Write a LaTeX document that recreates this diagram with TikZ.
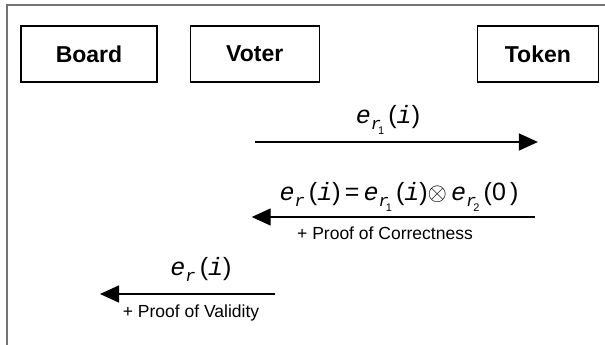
\documentclass[tikz,border=0pt]{standalone}
\usepackage{fontspec}
\setmainfont{Liberation Sans}
\newfontfamily\courfont{Liberation Mono}
\usepackage{amsmath, amssymb}
\usepackage{tikz}
\usetikzlibrary{arrows.meta, positioning}
\tikzset{every node/.style={font=\fontsize{17.5}{20}\selectfont}}
\newcommand{\encr}{{\courfont\itshape e}\raisebox{-6pt}{\fontsize{17}{17}\selectfont\courfont\itshape r}}
\newcommand{\encrk}[1]{\encr\kern-3pt\raisebox{-11pt}{\fontsize{11}{11}\selectfont #1}}
\newcommand{\argi}{({\courfont\itshape i})}

\begin{document}
\begin{tikzpicture}[x=1pt, y=-1pt, node distance=32pt,
    actor/.style={draw, line width=1.2pt, minimum height=56pt, inner sep=0pt, font=\fontsize{23}{27}\selectfont\bfseries},
    msg/.style={line width=1.3pt, -{Triangle[length=19pt, width=17pt]}},
    formula/.style={anchor=base, inner sep=0pt, font=\fontsize{25}{29}\selectfont},
    note/.style={anchor=base, inner sep=0pt}]
  \useasboundingbox (0,0) rectangle (605,345);
  \draw[line width=1.4pt, black!55] (605,5) -- (7,5) -- (7,345);
  \node[actor, minimum width=136pt] (board) at (89,54) {Board};
  \node[actor, minimum width=129pt, right=of board] (voter) {Voter};
  \node[actor, minimum width=121pt, right=157pt of voter] (token) {Token};
  % commitment sent to the token
  \coordinate (c1) at (voter |- 0,142);
  \coordinate (t1) at (token |- 0,142);
  \draw[msg] (c1) -- (t1);
  \node[formula] (f1) at (388,123) {\encrk{1}\,\argi};
  % re-encryption returned with proof
  \coordinate (t2) at ([xshift=-3pt]token |- 0,217);
  \coordinate (c2) at ([xshift=-3pt]voter |- 0,217);
  \draw[msg] (t2) -- (c2);
  \node[formula] (f2) at (399,200) {\encr\,\argi\,=\,\encrk{1}\,\argi$\otimes$\,\encrk{2}\,(0\,)};
  \node[note] (p2) at (385,239) {+ Proof of Correctness};
  % ballot posted to the board
  \coordinate (c3) at (275,294);
  \coordinate (b3) at (100,294);
  \draw[msg] (c3) -- (b3);
  \node[formula] (f3) at (201,275) {\encr\,\argi};
  \node[note] (p3) at (191,317) {+ Proof of Validity};
\end{tikzpicture}
\end{document}
